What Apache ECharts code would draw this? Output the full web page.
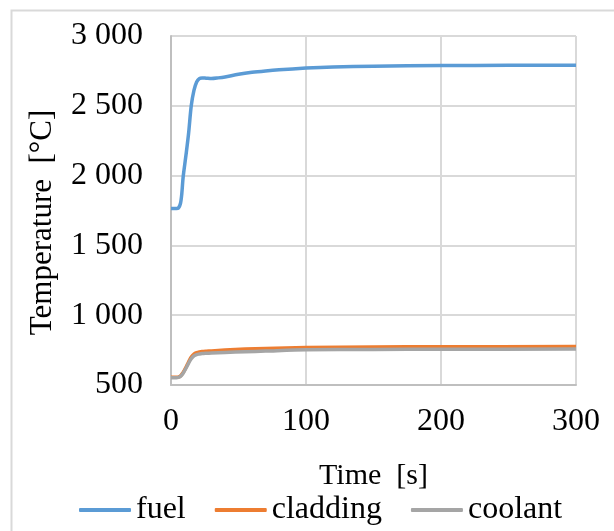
<!DOCTYPE html>
<html>
<head>
<meta charset="utf-8">
<script src="https://cdn.jsdelivr.net/npm/echarts@6/dist/echarts.min.js"></script>
<style>
  html, body { margin: 0; padding: 0; background: #fff; }
  #chart { width: 614px; height: 531px; }
</style>
</head>
<body>
<div id="chart"></div>
<script>
// Time samples [s] and temperatures [°C]
var fuelTime = [0, 2, 4, 5.5, 7, 8, 9, 11, 13, 15, 17, 19, 21, 23, 26, 30, 35, 40, 50, 60, 70, 80, 100, 120, 150, 200, 250, 300];
var fuelTemp = [1765, 1765, 1765, 1768, 1800, 1870, 1990, 2140, 2300, 2500, 2610, 2670, 2695, 2700, 2698, 2695, 2700, 2707, 2726, 2740, 2750, 2758, 2770, 2778, 2784, 2788, 2790, 2790];

var wallTime = [0, 2, 4, 5.5, 7, 9, 11, 13, 15, 17, 19, 21, 23, 26, 30, 40, 55, 70, 100, 150, 200, 300];
var claddingTemp = [555, 555, 555, 557, 565, 590, 625, 665, 700, 722, 732, 737, 740, 742, 744, 750, 757, 762, 768, 772, 774, 775];
var coolantTemp = [552, 552, 552, 554, 562, 585, 618, 655, 688, 708, 718, 722, 725, 727, 729, 733, 738, 743, 752, 755, 756, 757];

var seriesNames = ['fuel', 'cladding', 'coolant'];
var seriesColors = ['#5b9bd5', '#ed7d31', '#a5a5a5'];

function pairs(xs, ys) {
  return xs.map(function (x, i) { return [x, ys[i]]; });
}

function spaced(v) {
  return String(v).replace(/\B(?=(\d{3})+(?!\d))/g, ' ');
}

var FONT = 'Liberation Serif';
var chart = echarts.init(document.getElementById('chart'), null, { renderer: 'canvas' });

var seriesData = [pairs(fuelTime, fuelTemp), pairs(wallTime, claddingTemp), pairs(wallTime, coolantTemp)];

chart.setOption({
  animation: false,
  backgroundColor: '#fff',
  graphic: [{
    type: 'rect',
    shape: { x: 11.5, y: 10.5, width: 700, height: 600 },
    style: { fill: 'none', stroke: '#d9d9d9', lineWidth: 2 },
    silent: true
  }],
  grid: { left: 171, right: 38, top: 36, bottom: 146, containLabel: false },
  legend: {
    data: seriesNames.map(function (n) { return { name: n, icon: 'roundRect' }; }),
    left: 74,
    top: 489,
    itemWidth: 52,
    itemHeight: 4,
    itemGap: 29,
    textStyle: { fontFamily: FONT, fontSize: 32, color: '#000' }
  },
  xAxis: {
    type: 'value',
    min: 0, max: 300, interval: 100,
    name: 'Time  [s]',
    nameLocation: 'middle',
    nameGap: 76,
    nameTextStyle: { fontFamily: FONT, fontSize: 30, color: '#000' },
    axisLine: { show: true, lineStyle: { color: '#bfbfbf', width: 2 } },
    axisTick: { show: false },
    axisLabel: { fontFamily: FONT, fontSize: 32, color: '#000', margin: 21 },
    splitLine: { show: true, lineStyle: { color: '#d9d9d9', width: 2 } }
  },
  yAxis: {
    type: 'value',
    min: 500, max: 3000, interval: 500,
    name: 'Temperature  [°C]',
    nameLocation: 'middle',
    nameGap: 113,
    nameRotate: 90,
    nameTextStyle: { fontFamily: FONT, fontSize: 31, color: '#000', padding: [0, 24, 0, 0] },
    axisLine: { show: true, lineStyle: { color: '#bfbfbf', width: 2 } },
    axisTick: { show: false },
    axisLabel: { fontFamily: FONT, fontSize: 32, color: '#000', margin: 28, formatter: spaced },
    splitLine: { show: true, lineStyle: { color: '#d9d9d9', width: 2 } }
  },
  series: seriesNames.map(function (n, i) {
    return {
      name: n,
      type: 'line',
      data: seriesData[i],
      smooth: 0.3,
      showSymbol: false,
      symbol: 'none',
      color: seriesColors[i],
      lineStyle: { color: seriesColors[i], width: 3.5 }
    };
  })
});
</script>
</body>
</html>
